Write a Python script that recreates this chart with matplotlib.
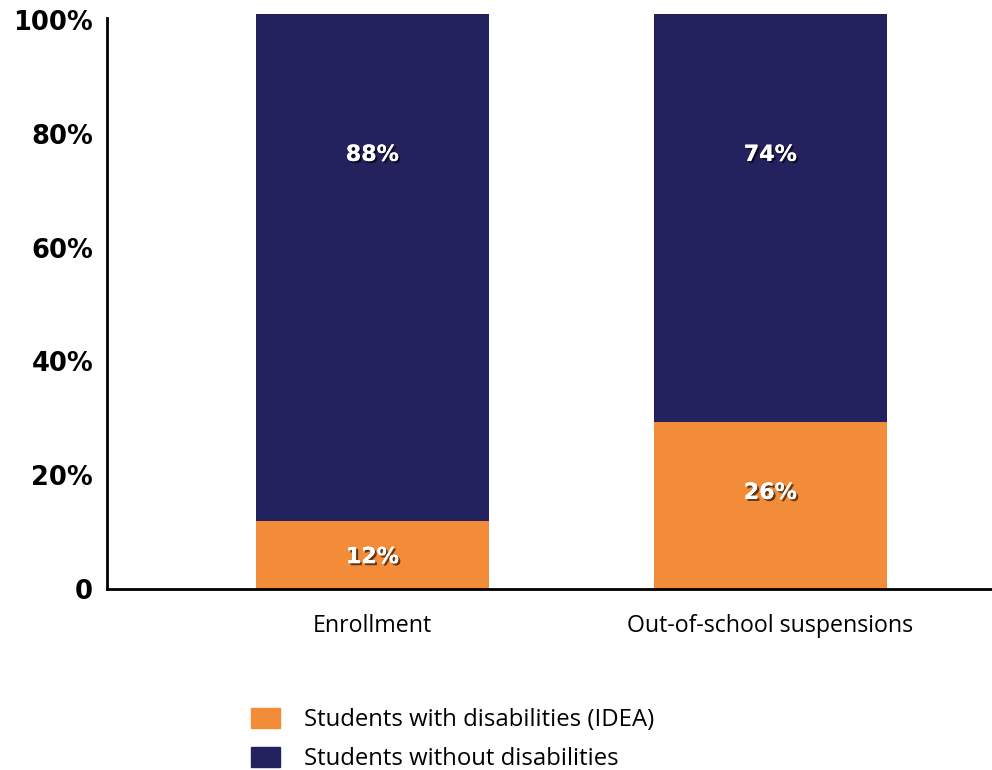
"""Stacked share bars: students with and without disabilities."""

import matplotlib
matplotlib.use("Agg")
import matplotlib.pyplot as plt
import matplotlib.patheffects as pe
from matplotlib.patches import Patch

categories = ["Enrollment", "Out-of-school suspensions"]
with_disab = [12, 29.4]          # bar heights as drawn in the picture
without_disab = [89, 71.6]
with_labels = ["12%", "26%"]     # printed labels
without_labels = ["88%", "74%"]
yticks = [0, 20, 40, 60, 80, 100]
ytick_labels = ["0", "20%", "40%", "60%", "80%", "100%"]
series_names = ["Students with disabilities (IDEA)", "Students without disabilities"]

ORANGE = "#F28C38"
NAVY = "#23215E"


def main() -> None:
    fig = plt.figure(figsize=(9.92, 7.7), dpi=100)
    ax = fig.add_axes([107 / 992, 1 - 589 / 770, 885 / 992, 569 / 770 * 1.01])

    x = list(range(len(categories)))
    width = 0.585
    ax.bar(x, with_disab, width, color=ORANGE)
    ax.bar(x, without_disab, width, bottom=with_disab, color=NAVY)

    shadow = [pe.withSimplePatchShadow(offset=(1.5, -1.5), shadow_rgbFace="black", alpha=0.6),
              pe.Normal()]
    for xi, lo, hi, llo, lhi in zip(x, with_disab, without_disab, with_labels, without_labels):
        y_lo = 5.6 if lo < 20 else lo / 2 + 2.2
        ax.text(xi, y_lo, llo, ha="center", va="center", color="white",
                fontsize=16, fontweight="bold", family="DejaVu Sans", path_effects=shadow)
        ax.text(xi, 76.3, lhi, ha="center", va="center", color="white",
                fontsize=16, fontweight="bold", family="DejaVu Sans", path_effects=shadow)

    ax.set_xlim(-0.667, 1.557)
    ax.set_ylim(0, 101)
    ax.set_yticks(yticks)
    ax.set_yticklabels(ytick_labels, fontsize=18.5, fontweight="bold")
    ax.set_xticks(x)
    ax.set_xticklabels(categories, fontsize=16.7, family="Open Sans")
    ax.tick_params(axis="y", length=0, pad=10)
    ax.tick_params(axis="x", length=0, pad=18)

    for side in ["top", "right"]:
        ax.spines[side].set_visible(False)
    ax.spines["left"].set_linewidth(2)
    ax.spines["bottom"].set_linewidth(2)
    ax.spines["left"].set_bounds(0, 100.3)

    handles = [Patch(color=ORANGE), Patch(color=NAVY)]
    fig.legend(handles, series_names, loc="upper left",
               bbox_to_anchor=(251 / 992, 1 - 708 / 770), frameon=False,
               prop={"family": "Open Sans", "size": 17.2},
               handlelength=1.2, handleheight=0.9, handletextpad=1.0,
               labelspacing=0.62, borderpad=0, borderaxespad=0)

    fig.savefig("out.png", dpi=100)


if __name__ == "__main__":
    main()
